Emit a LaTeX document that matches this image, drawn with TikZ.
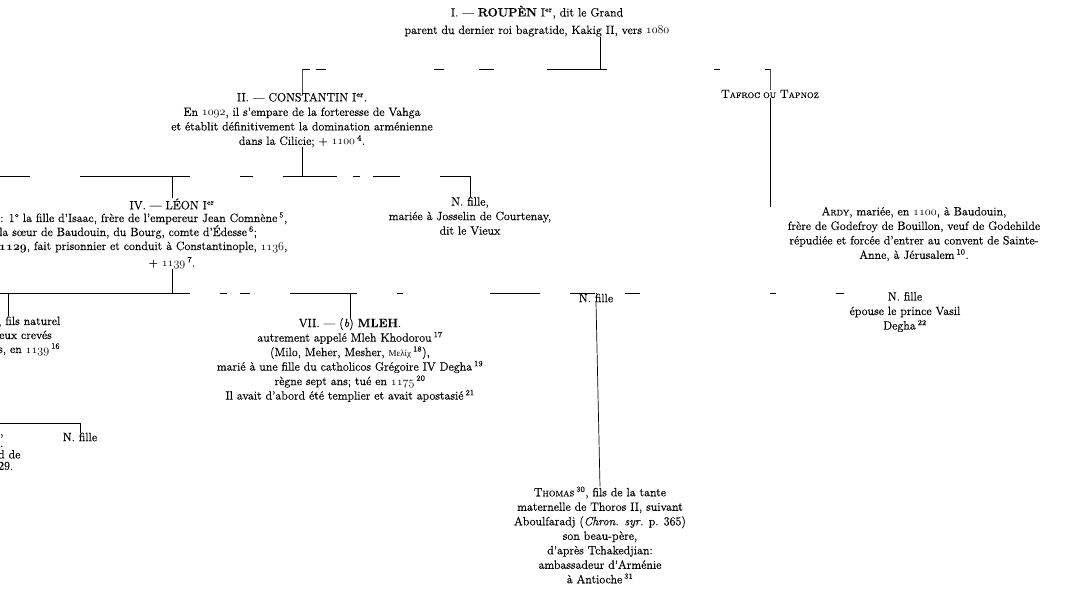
\documentclass[tikz,border=0pt]{standalone}
\usepackage{fontspec}
\setmainfont{Latin Modern Roman}[FakeBold=0.4]
\newfontfamily\grec{Liberation Serif}
\usetikzlibrary{positioning}

\newcommand{\an}[1]{$\mathnormal{#1}$}
\newcommand{\nt}[1]{\textsuperscript{#1}}
\newcommand{\pc}[1]{{\footnotesize #1}}

\begin{document}
\begin{tikzpicture}[
    x=1pt, y=-1pt,
    font=\fontsize{12}{14.5}\selectfont
]
\tikzset{
    bloc/.style = {align=center, inner sep=0pt},
    coupe/.style = {anchor=base west, inner sep=0pt},
    trait/.style = {line width=0.7pt},
    pale/.style = {line width=0.6pt, black!70}
}
\useasboundingbox (0,0) rectangle (1090,608);
\clip (0,0) rectangle (1090,608);

\node[bloc] at (537,21) (roupen) {I. --- \textbf{ROUPÈN} I\nt{er}, dit le Grand\\[3pt] parent du dernier roi bagratide, Kakig II, vers \an{1080}};
\node[bloc] at (302,120) (constantin) {II. --- CONSTANTIN I\nt{er}.\\ En \an{1092}, il s'empare de la forteresse de Vahga\\ et établit définitivement la domination arménienne\\ dans la Cilicie; + \an{1100}\,\nt{4}.};
\node[bloc] at (770,94) (tafroc) {T\pc{AFROC OU} T\pc{APNOZ}};

\node[bloc] at (172,204) (leon) {IV. --- LÉON I\nt{er}};
\node[coupe] at (0,222) (leona) {: 1° la fille d'Isaac, frère de l'empereur Jean Comnène\,\nt{5},};
\node[coupe] at (-1,236) (leonb) {la sœur de Baudouin, du Bourg, comte d'Édesse\,\nt{6};};
\node[coupe] at (-1,250) (leonc) {{\boldmath\an{1129}}, fait prisonnier et conduit à Constantinople, \an{1136},};
\node[bloc] at (172,263) (leonfin) {+ \an{1139}\,\nt{7}.};
\node[bloc] at (470,216) (josselin) {N. fille,\\ mariée à Josselin de Courtenay,\\ dit le Vieux};
\node[bloc] at (914,234) (ardy) {A\pc{RDY}, mariée, en \an{1100}, à Baudouin,\\ frère de Godefroy de Bouillon, veuf de Godehilde\\ répudiée et forcée d'entrer au convent de Sainte-\\ Anne, à Jérusalem\,\nt{10}.};

\node[coupe] at (-2,325) (naturel) {, fils naturel};
\node[coupe] at (-1,339) (naturelb) {eux crevés};
\node[coupe] at (-2,353) (naturelc) {s, en \an{1139}\,\nt{16}};
\node[bloc] at (350,360) (mleh) {VII. --- (\textit{b}) \textbf{MLEH}.\\ autrement appelé Mleh Khodorou\,\nt{17}\\ (Milo, Meher, Mesher, {\grec\small Μελίχ}\,\nt{18}),\\ marié à une fille du catholicos Grégoire IV Degha\,\nt{19}\\ règne sept ans; tué en \an{1175}\,\nt{20}\\ Il avait d'abord été templier et avait apostasié\,\nt{21}};
\node[bloc] at (596,298) (fille) {N. fille};
\node[bloc] at (600,535) (thomas) {T\pc{HOMAS}\,\nt{30}, fils de la tante\\ maternelle de Thoros II, suivant\\ Aboulfaradj (\textit{Chron. syr.} p. 365)\\ son beau-père,\\ d'après Tchakedjian:\\ ambassadeur d'Arménie\\ à Antioche\,\nt{31}};
\node[bloc] at (905,312) (vasil) {N. fille\\ épouse le prince Vasil\\ Degha\,\nt{22}};

\node[anchor=north west, align=left, inner sep=0pt, font=\fontsize{12}{11.5}\selectfont] at (-2,434) (bas) {\,,\\ \,.\\ d de\\ 29.};
\node[bloc] at (80,437) (fillebas) {N. fille};

\coordinate (h1g) at (302,69);
\coordinate (h1m) at (600,69);
\coordinate (h1d) at (770,69);
\coordinate (h2g) at (0,176);
\coordinate (h2c) at (302,176);
\coordinate (h3g) at (0,293);
\coordinate (h3d) at (905,293);
\coordinate (h4g) at (0,423);

\draw[trait] (roupen.south -| h1m) -- (h1m);
\draw[trait, dash pattern=on 8pt off 6pt on 10pt off 108pt on 10pt off 35pt on 15pt off 53pt on 60pt off 107pt on 6pt off 45pt on 5pt] (h1g) -- (h1d);
\draw[pale] (h1g) -- (constantin.north);
\draw[pale] (h1d) -- (tafroc.north);
\draw[trait] (tafroc.south) -- (tafroc.south |- ardy.north);

\draw[trait] (constantin.south) -- (h2c);
\draw[trait, dash pattern=on 30pt off 50pt on 110pt off 50pt on 13pt off 30pt on 54pt off 16pt on 7pt off 13pt on 27pt off 40pt on 30pt] (h2g) -- (h2g -| josselin.north);
\draw[trait] (h2g -| leon.north) -- (leon.north);
\draw[trait] (h2g -| josselin.north) -- (josselin.north);

\draw[trait] (leonfin.south) -- (leonfin.south |- h3g);
\draw[trait, dash pattern=on 190pt off 30pt on 7pt off 13pt on 10pt off 40pt on 67pt off 40pt on 6pt off 87pt on 50pt off 30pt on 25pt off 30pt on 15pt off 130pt on 6pt off 60pt on 8pt] (h3g) -- (h3d);
\draw[trait] (h3g -| 8,0) -- (naturel.north -| 8,0);
\draw[trait] (h3g -| mleh.north) -- (mleh.north);
\draw[trait] (h3g -| fille.north) -- (fille.north);
\draw[pale] (h3d) -- (vasil.north);
\draw[trait] (fille.south) -- (thomas.north);

\draw[trait] (h4g) -- (h4g -| fillebas.north) -- (fillebas.north);
\end{tikzpicture}
\end{document}
